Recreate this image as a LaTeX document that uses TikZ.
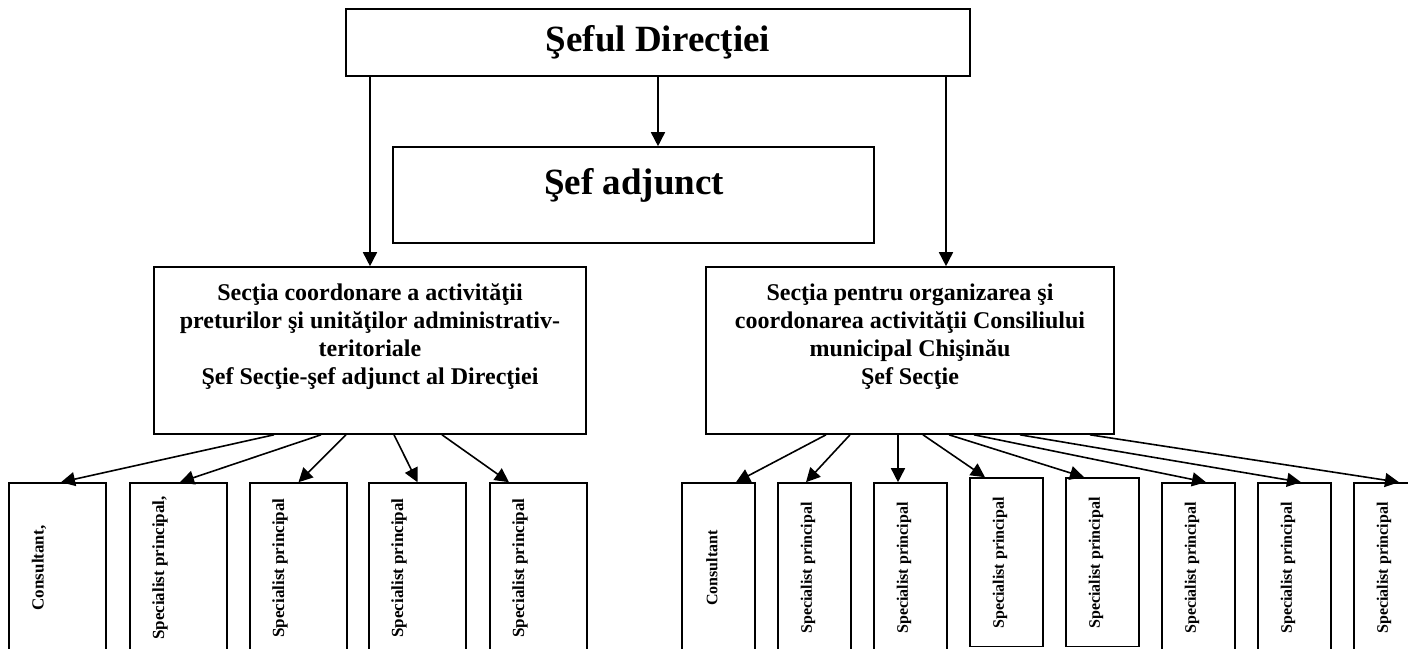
\documentclass[tikz,border=0pt]{standalone}
\usepackage{fontspec}
\setmainfont{Liberation Serif}
\usetikzlibrary{arrows.meta}

\begin{document}
\begin{tikzpicture}[x=1pt,y=-1pt,
  box/.style={draw,line width=1.6pt,inner sep=0pt},
  arr/.style={line width=1.6pt,-{Triangle[length=14pt,width=14pt]}},
  big/.style={font=\fontsize{37}{44}\selectfont\bfseries},
  mid/.style={font=\fontsize{24}{28}\selectfont\bfseries,align=center},
  vl/.style={rotate=90,font=\fontsize{17}{20}\selectfont\bfseries},
  vr/.style={rotate=90,font=\fontsize{16}{19}\selectfont\bfseries},
  lowl/.style={box,minimum width=97pt,minimum height=177pt},
  lowr/.style={box,minimum width=73pt,minimum height=177pt}]
                \useasboundingbox (0,0) rectangle (1408,648);
                \clip (0,0) rectangle (1408,648);
                % top and deputy
                \node[box,big,minimum width=624pt,minimum height=67pt] (sef) at (658,42.5) {Şeful Direcţiei};
                \node[box,minimum width=481pt,minimum height=96pt] (adj) at (633.5,195) {};
                \node[big] (tAdj) at (634,185) {Şef adjunct};
                % sections
                \node[box,minimum width=432pt,minimum height=167pt] (secL) at (370,350.5) {};
                \node[mid] (tSecL) at (370,337) {Secţia coordonare a activităţii\\preturilor şi unităţilor administrativ-\\teritoriale\\Şef Secţie-şef adjunct al Direcţiei};
                \node[box,minimum width=408pt,minimum height=167pt] (secR) at (910,350.5) {};
                \node[mid] (tSecR) at (910,337) {Secţia pentru organizarea şi\\coordonarea activităţii Consiliului\\municipal Chişinău\\Şef Secţie};
                \draw[arr] (sef.south) -- (sef.south |- adj.north);
                \draw[arr] (sef.south -| secL.north) -- (secL.north);
                \draw[arr] ([xshift=36pt]secR.north |- sef.south) -- ([xshift=36pt]secR.north);
                % left staff
                \node[lowl] (cL1) at (57.5,571.5) {};
                \node[lowl] (cL2) at (178.5,571.5) {};
                \node[lowl] (cL3) at (298.5,571.5) {};
                \node[lowl] (cL4) at (417.5,571.5) {};
                \node[lowl] (cL5) at (538.5,571.5) {};
                \node[vl] (tL1) at (39,568) {Consultant,};
                \node[vl] (tL2) at (160,568) {Specialist principal,};
                \node[vl] (tL3) at (280,568) {Specialist principal};
                \node[vl] (tL4) at (399,568) {Specialist principal};
                \node[vl] (tL5) at (520,568) {Specialist principal};
                \draw[arr] ([xshift=-96pt]secL.south) -- ([xshift=3.5pt]cL1.north);
                \draw[arr] ([xshift=-49pt]secL.south) -- ([xshift=1.5pt]cL2.north);
                \draw[arr] ([xshift=-24pt]secL.south) -- (cL3.north);
                \draw[arr] ([xshift=24pt]secL.south) -- (cL4.north);
                \draw[arr] ([xshift=72pt]secL.south) -- ([xshift=-29.5pt]cL5.north);
                % right staff
                \node[lowr] (cR1) at (718.5,571.5) {};
                \node[lowr] (cR2) at (814.5,571.5) {};
                \node[lowr] (cR3) at (910.5,571.5) {};
                \node[box,minimum width=73pt,minimum height=168.5pt] (cR4) at (1006.5,562.25) {};
                \node[box,minimum width=73pt,minimum height=168.5pt] (cR5) at (1102.5,562.25) {};
                \node[lowr] (cR6) at (1198.5,571.5) {};
                \node[lowr] (cR7) at (1294.5,571.5) {};
                \node[lowr] (cR8) at (1390.5,571.5) {};
                \node[vr] (tR1) at (712,568) {Consultant};
                \node[vr] (tR2) at (808,568) {Specialist principal};
                \node[vr] (tR3) at (904,568) {Specialist principal};
                \node[vr] (tR4) at (1000,563) {Specialist principal};
                \node[vr] (tR5) at (1096,563) {Specialist principal};
                \node[vr] (tR6) at (1192,568) {Specialist principal};
                \node[vr] (tR7) at (1288,568) {Specialist principal};
                \node[vr] (tR8) at (1384,568) {Specialist principal};
                \draw[arr] ([xshift=-84pt]secR.south) -- ([xshift=17.5pt]cR1.north);
                \draw[arr] ([xshift=-60pt]secR.south) -- ([xshift=-8.5pt]cR2.north);
                \draw[arr] ([xshift=-12pt]secR.south) -- ([xshift=-12.5pt]cR3.north);
                \draw[arr] ([xshift=13pt]secR.south) -- ([xshift=-21.5pt]cR4.north);
                \draw[arr] ([xshift=39pt]secR.south) -- ([xshift=-18.5pt]cR5.north);
                \draw[arr] ([xshift=64pt]secR.south) -- ([xshift=7.5pt]cR6.north);
                \draw[arr] ([xshift=110pt]secR.south) -- ([xshift=6.5pt]cR7.north);
                \draw[arr] ([xshift=180pt]secR.south) -- ([xshift=8.5pt]cR8.north);
\end{tikzpicture}
\end{document}
